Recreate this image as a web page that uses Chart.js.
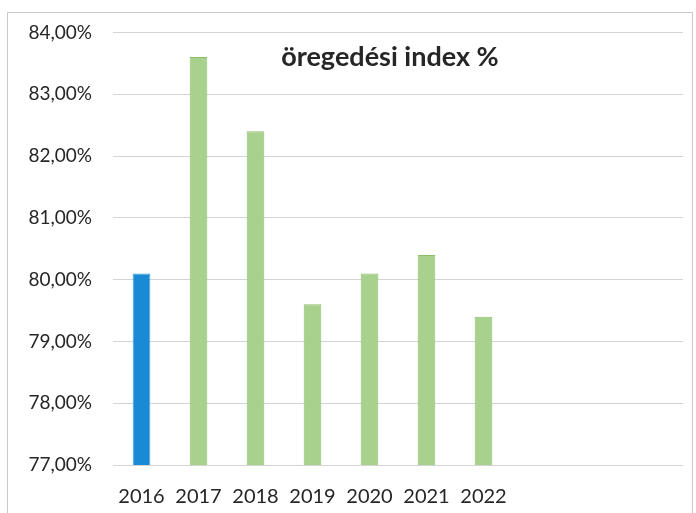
<!DOCTYPE html>
<html>
<head>
<meta charset="utf-8">
<script src="https://cdn.jsdelivr.net/npm/chart.js@4/dist/chart.umd.min.js"></script>
<style>
  html, body { margin: 0; padding: 0; background: #ffffff; }
  #wrap { position: relative; width: 696px; height: 513px; }
  #frame { position: absolute; left: 7px; top: 12px; width: 686px; height: 520px; border: 1px solid #c8c8c8; box-sizing: border-box; pointer-events: none; }
  canvas { position: absolute; left: 0; top: 0; }
</style>
</head>
<body>
<div id="wrap">
  <canvas id="c" width="696" height="513"></canvas>
  <div id="frame"></div>
</div>
<script>
const chartTitle = 'öregedési index %';
const categories = ['2016', '2017', '2018', '2019', '2020', '2021', '2022', '', '', ''];
const values = [80.1, 83.6, 82.4, 79.6, 80.1, 80.4, 79.4, null, null, null];
const barColors = ['#1a8ad4', '#a9d18e', '#a9d18e', '#a9d18e', '#a9d18e', '#a9d18e', '#a9d18e', '#a9d18e', '#a9d18e', '#a9d18e'];
const barBorders = ['#3ea2e0', '#8cbf68', '#8cbf68', '#8cbf68', '#8cbf68', '#8cbf68', '#8cbf68', '#8cbf68', '#8cbf68', '#8cbf68'];
const yMin = 77, yMax = 84, yStep = 1;

const titlePlugin = {
  id: 'innerTitle',
  afterDraw(chart) {
    const ctx = chart.ctx;
    const a = chart.chartArea;
    ctx.save();
    ctx.font = 'bold 27px Lato, "Open Sans", sans-serif';
    ctx.fillStyle = '#262626';
    ctx.textAlign = 'center';
    ctx.textBaseline = 'middle';
    ctx.fillText(chartTitle, (a.left + a.right) / 2 - 8, a.top + 25);
    ctx.restore();
  }
};

new Chart(document.getElementById('c'), {
  type: 'bar',
  data: {
    labels: categories,
    datasets: [{
      data: values,
      backgroundColor: barColors,
      borderColor: barBorders,
      borderWidth: 1,
      barPercentage: 0.31,
      categoryPercentage: 1.0
    }]
  },
  options: {
    responsive: false,
    animation: false,
    layout: { padding: { top: 32, right: 13, left: 0, bottom: 0 } },
    plugins: { legend: { display: false }, tooltip: { enabled: false }, title: { display: false } },
    scales: {
      x: {
        grid: { display: false, drawTicks: false },
        border: { display: false },
        ticks: { color: '#262626', font: { family: 'Lato, "Open Sans", sans-serif', size: 20 }, padding: 20, maxRotation: 0, autoSkip: false },
        afterFit(s) { s.height = 48; }
      },
      y: {
        min: yMin, max: yMax,
        grid: { color: '#d4d4d4', lineWidth: 1, drawTicks: false },
        border: { display: false },
        ticks: {
          stepSize: yStep,
          color: '#262626',
          font: { family: 'Lato, "Open Sans", sans-serif', size: 19 },
          padding: 21,
          callback: v => v.toFixed(2).replace('.', ',') + '%'
        },
        afterFit(s) { s.width = 113; }
      }
    }
  },
  plugins: [titlePlugin]
});
</script>
</body>
</html>
